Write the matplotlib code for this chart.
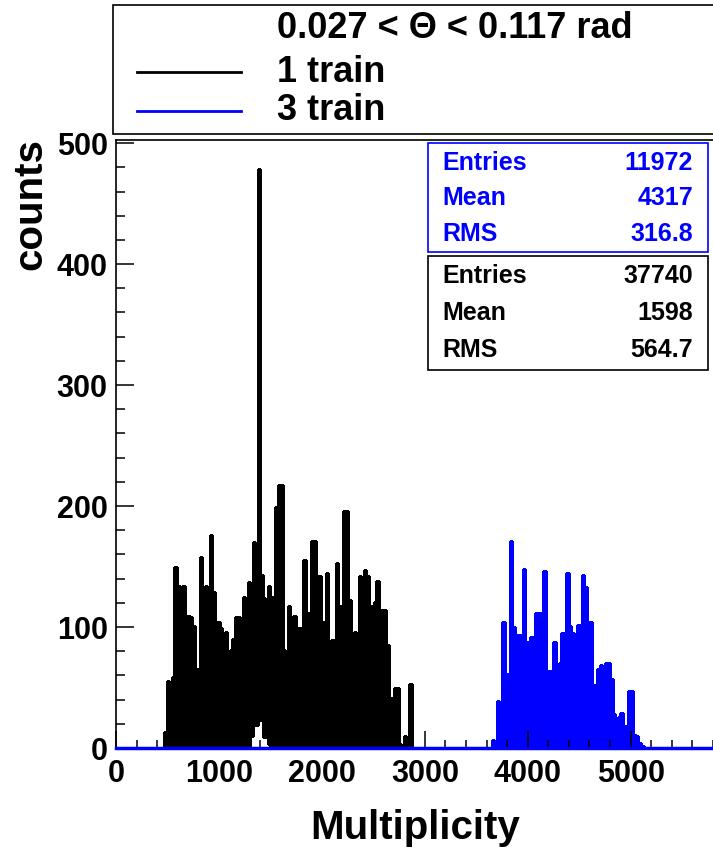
import numpy as np
import matplotlib
matplotlib.use('Agg')
import matplotlib.pyplot as plt
from matplotlib.patches import Rectangle
from matplotlib.lines import Line2D
from matplotlib.ticker import MultipleLocator

plt.rcParams['font.family'] = ['Liberation Sans', 'DejaVu Sans']
plt.rcParams['font.weight'] = 'bold'

# 1 train: bin contents (upper envelope) and the lowest level under it
black_start = 470
black_width = 24.5
black_counts = [13, 55, 10, 59, 150, 134, 54, 134, 109, 109,
                108, 101, 49, 65, 158, 106, 134, 119, 176, 129,
                85, 104, 99, 81, 96, 75, 81, 90, 108, 108,
                86, 125, 114, 137, 114, 170, 156, 479, 143, 124,
                122, 134, 125, 85, 199, 217, 217, 81, 73, 117,
                93, 109, 90, 99, 49, 155, 67, 112, 171, 171,
                134, 142, 83, 104, 145, 88, 89, 89, 153, 117,
                54, 196, 196, 122, 86, 96, 89, 142, 114, 147,
                142, 101, 117, 121, 138, 60, 114, 114, 85, 36,
                41, 50, 50, 3, 0, 10, 4, 53]
black_floor = [0] * 34 + [10, 33, 19, 23, 23, 9, 9, 3] + [0] * 56

# 3 train
blue_start = 3650
blue_width = 25
blue_counts = [7, 5, 39, 2, 104, 29, 61, 171, 100, 81,
               93, 93, 148, 88, 84, 92, 92, 112, 112, 21,
               146, 56, 64, 61, 88, 39, 70, 95, 95, 145,
               101, 95, 51, 102, 102, 143, 133, 84, 104, 52,
               39, 65, 69, 57, 70, 70, 57, 28, 23, 26,
               29, 18, 15, 47, 47, 11, 10, 4, 2]

stat_names = ['Entries', 'Mean', 'RMS']
stats_3train = ['11972', '4317', '316.8']
stats_1train = ['37740', '1598', '564.7']

W, H = 713, 856
fig = plt.figure(figsize=(W / 100, H / 100), dpi=100)
ax = fig.add_axes([116 / W, 1 - 748 / H, 1 - 116 / W, (748 - 139.5) / H])

e1 = black_start + black_width * np.arange(len(black_counts) + 1)
ax.stairs(black_counts, e1, baseline=black_floor, fill=True,
          facecolor='black', edgecolor='black', lw=0.8, antialiased=False)

e3 = blue_start + blue_width * np.arange(len(blue_counts) + 1)
ax.stairs(blue_counts, e3, fill=True, facecolor='#0000ff',
          edgecolor='#0000ff', lw=0.8, antialiased=False)
ax.axhline(0, color='#0000ff', lw=2.5, zorder=3, clip_on=False)

ax.set_xlim(0, 5800)
ax.set_ylim(0, 503)
ax.xaxis.set_major_locator(MultipleLocator(1000))
ax.xaxis.set_minor_locator(MultipleLocator(200))
ax.yaxis.set_major_locator(MultipleLocator(100))
ax.yaxis.set_minor_locator(MultipleLocator(20))
ax.tick_params(axis='both', which='both', direction='in', width=1.1, labelsize=22)
ax.tick_params(axis='x', which='major', length=12, pad=8)
ax.tick_params(axis='x', which='minor', length=6)
ax.tick_params(axis='y', which='major', length=13, pad=6)
ax.tick_params(axis='y', which='minor', length=6.5)
ax.spines['right'].set_visible(False)
for s in ['left', 'bottom', 'top']:
    ax.spines[s].set_linewidth(1.2)

fig.text(30 / W, 1 - 138 / H, 'counts', rotation=90, ha='center', va='top', size=29)
fig.text(415 / W, 1 - 828 / H, 'Multiplicity', ha='center', va='center', size=29)

# legend box
fig.add_artist(Rectangle((113 / W, 1 - 134 / H), 1, (134 - 5) / H,
                         transform=fig.transFigure, facecolor='white',
                         edgecolor='black', lw=1.2))
fig.text(277 / W, 1 - 29 / H, '0.027 < \u0398 < 0.117 rad', va='center', size=26)
for label, colour, y in [('1 train', 'black', 72), ('3 train', '#0000ff', 111)]:
    fig.add_artist(Line2D([137 / W, 241 / W], [1 - y / H, 1 - y / H],
                          transform=fig.transFigure, color=colour, lw=2))
    fig.text(277 / W, 1 - y / H, label, va='center', size=26)

# statistics boxes
for vals, colour, top, bottom, rows in [
        (stats_3train, '#0000ff', 143, 252, [163, 198, 234]),
        (stats_1train, 'black', 256, 370, [276, 313, 350])]:
    fig.add_artist(Rectangle((428 / W, 1 - bottom / H), 280 / W, (bottom - top) / H,
                             transform=fig.transFigure, facecolor='white',
                             edgecolor=colour, lw=1.2, zorder=5))
    for name, v, y in zip(stat_names, vals, rows):
        fig.text(442 / W, 1 - y / H, name, color=colour, va='center', size=18, zorder=6)
        fig.text(693 / W, 1 - y / H, v, color=colour, va='center', ha='right', size=18, zorder=6)

fig.savefig('out.png', dpi=100)
